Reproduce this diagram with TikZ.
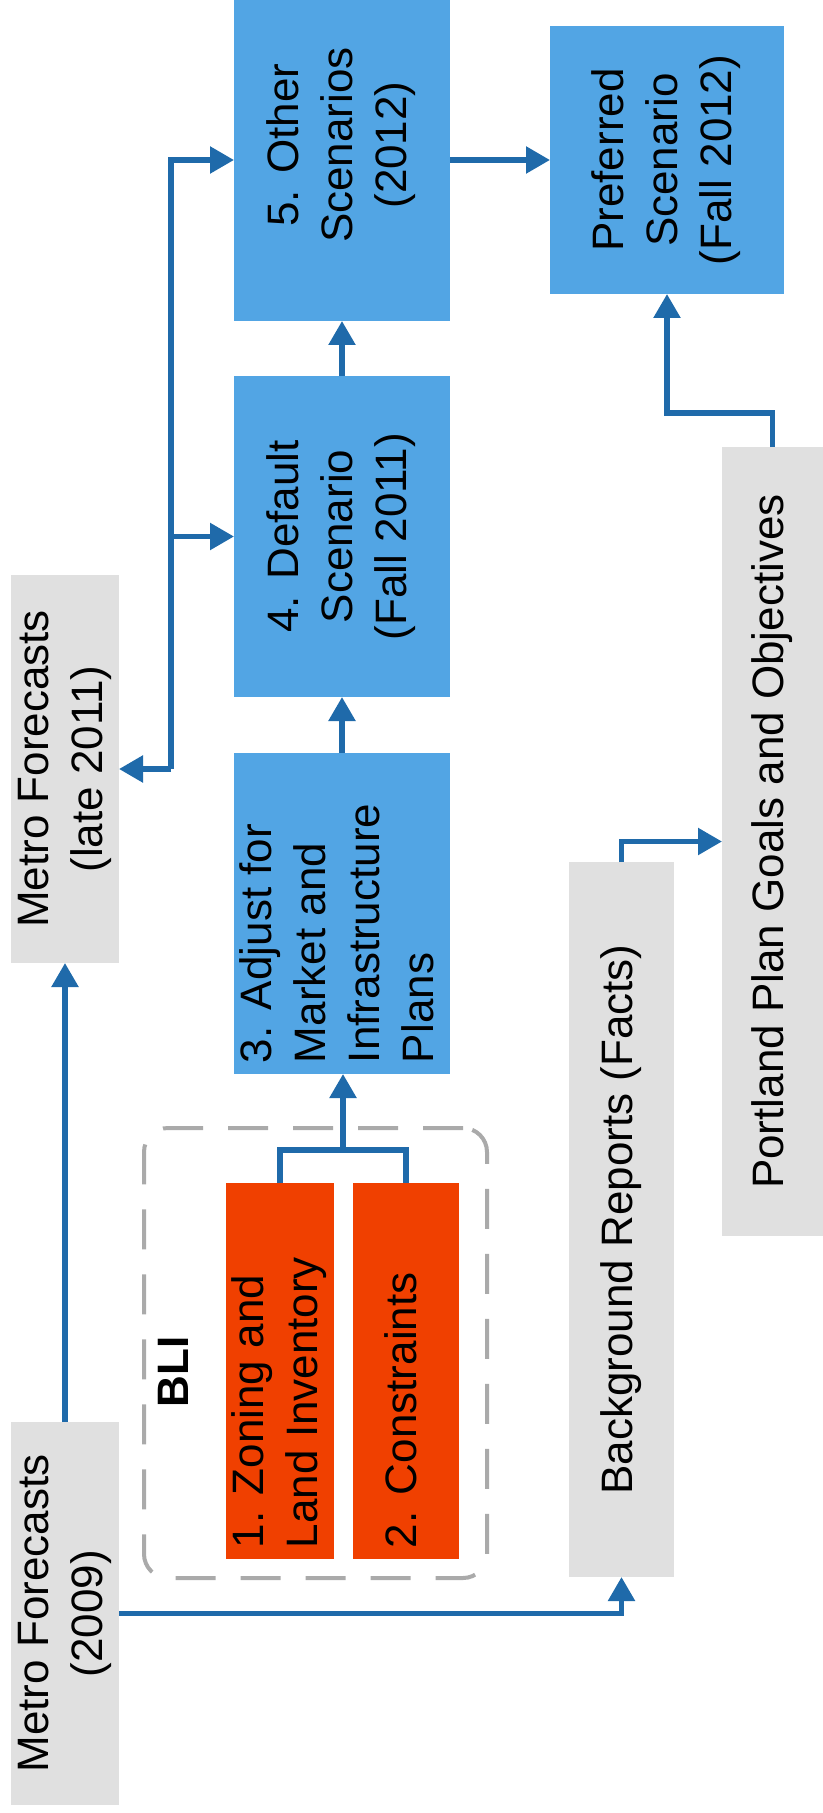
\documentclass[tikz,border=0pt]{standalone}
\usepackage{fontspec}
\setmainfont{Liberation Sans}
\usepackage{graphicx}
\usepackage{xcolor}
\usetikzlibrary{arrows.meta}

\definecolor{stepblue}{RGB}{82,165,228}
\definecolor{bliorange}{RGB}{240,64,0}
\definecolor{factgray}{RGB}{224,224,224}
\definecolor{linkblue}{RGB}{31,106,170}
\definecolor{dashgray}{RGB}{170,170,170}

\newcommand{\upl}[2][c]{\rotatebox{90}{\begin{tabular}{@{}#1@{}}#2\end{tabular}}}
\newcommand{\upfrom}[2]{\rotatebox{90}{\makebox[#1][l]{\hspace*{5.5pt}\begin{tabular}{@{}l@{}}#2\end{tabular}}}}

\tikzset{
  box/.style={inner sep=0pt, outer sep=0pt, font=\fontsize{22}{27}\selectfont},
  stepbox/.style={box, fill=stepblue, minimum width=108pt, minimum height=160.5pt},
  blibox/.style={box, fill=bliorange, minimum width=53pt, minimum height=188pt},
  infobox/.style={box, fill=factgray},
  wire/.style={draw=linkblue, line width=2.7pt},
  link/.style={wire, -{Triangle[width=13pt,length=12pt]}},
}

\begin{document}
\begin{tikzpicture}[x=0.5pt, y=-0.5pt]
  \useasboundingbox (0,0) rectangle (823,1813);
  \node[infobox, minimum width=52.5pt, minimum height=191.5pt] (m09) at (65,1613.5)
    {\upl{Metro Forecasts\\(2009)}};
  \node[infobox, minimum width=53pt, minimum height=194pt] (m11) at (65,769)
    {\upl{Metro Forecasts\\(late 2011)}};
  \node[draw=dashgray, dash pattern=on 20pt off 12.5pt, line width=2pt, rounded corners=12pt,
    minimum width=171.5pt, minimum height=225pt] (bli) at (315.5,1353) {};
  \node[box, font=\fontsize{22}{27}\selectfont\bfseries] (blilab) at (178,1372) {\upl{BLI}};
  \node[blibox] (z1) at (280,1371) {\upfrom{188pt}{1. Zoning and\\Land Inventory}};
  \node[blibox] (z2) at (406,1371) {\upfrom{188pt}{2. Constraints}};
  \node[stepbox] (s3) at (342,913.5) {\upfrom{160.5pt}{3. Adjust for\\Market and\\Infrastructure\\Plans}};
  \node[stepbox] (s4) at (342,536.5) {\upl{4. Default\\Scenario\\(Fall 2011)}};
  \node[stepbox, minimum height=176pt] (s5) at (342,145) {\upl{5. Other\\Scenarios\\(2012)}};
  \node[stepbox, minimum width=117pt, minimum height=134pt] (pref) at (667,160)
    {\upl{Preferred\\Scenario\\(Fall 2012)}};
  \node[infobox, minimum width=52.5pt, minimum height=357.5pt] (bg) at (621.5,1219.5)
    {\upl{Background Reports (Facts)}};
  \node[infobox, minimum width=50.5pt, minimum height=394.5pt] (pg) at (772.5,841.5)
    {\upl{Portland Plan Goals and Objectives}};

  \coordinate (jn) at (343,1150);
  \coordinate (fk) at (171,769);
  \coordinate (pk) at (0,413);

  \draw[link] (m09) -- (m11);
  \draw[link] (m09) -| (bg);
  \draw[wire] (z1) |- (jn) -| (z2);
  \draw[link] (jn) -- (jn |- s3.south);
  \draw[link] (s3) -- (s4);
  \draw[link] (s4) -- (s5);
  \draw[link] (s5.east |- pref) -- (pref);
  \draw[link] (fk) -- (m11);
  \draw[link] (fk) |- (s4);
  \draw[link] (fk) |- (s5.west |- pref);
  \draw[link] (bg) |- (pg);
  \draw[link] (pg) -- (pg |- pk) -| (pref);
\end{tikzpicture}
\end{document}
